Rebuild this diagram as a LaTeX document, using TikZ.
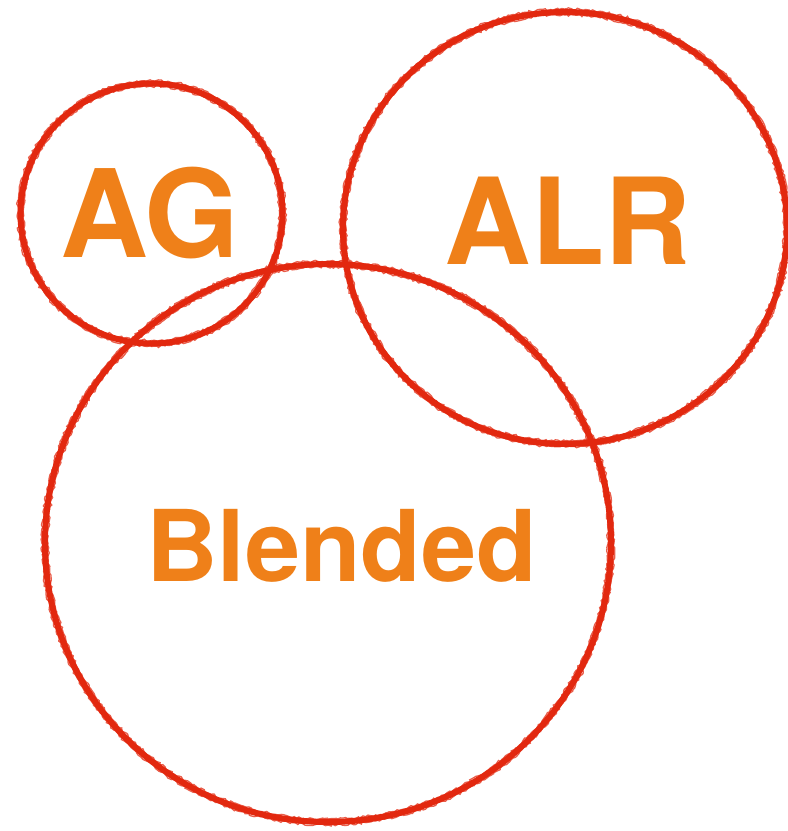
\documentclass[tikz,border=0pt]{standalone}
\usepackage{fontspec}
\setmainfont{TeX Gyre Heros}
\usetikzlibrary{decorations.pathmorphing}
\definecolor{crayon}{HTML}{E2280F}
\definecolor{labelorange}{HTML}{EF8019}
\tikzset{
  ring/.style={draw=crayon, line width=6pt},
  ringrough/.style={draw=crayon, line width=1.3pt, opacity=0.75,
    decorate, decoration={random steps, segment length=2.5pt, amplitude=1.2pt}},
  lbl/.style={text=labelorange, inner sep=0pt, anchor=base, font=\bfseries}
}
\begin{document}
\begin{tikzpicture}[x=1pt,y=1pt]
\useasboundingbox (0,0) rectangle (788,-831);
% circles
\coordinate (agc) at (151.5,-213.5);
\coordinate (alrc) at (565,-228);
\coordinate (blc) at (328,-543);
\foreach \n/\rx/\ry in {agc/131/130, alrc/222/216, blc/283/279} {
  \draw[ring] (\n) ellipse [x radius=\rx, y radius=\ry];
  \draw[ringrough] (\n) ellipse [x radius=\rx+3, y radius=\ry+3];
  \draw[ringrough] (\n) ellipse [x radius=\rx-3, y radius=\ry-3];
}
% labels
\node[lbl, font=\fontsize{122}{122}\selectfont\bfseries] (ag) at (150,-257) {AG};
\node[lbl, font=\fontsize{120}{120}\selectfont\bfseries] (alr) at (568,-264) {ALR};
\node[lbl, font=\fontsize{99}{99}\selectfont\bfseries] (bl) at (341.5,-581) {Blended};
\end{tikzpicture}
\end{document}
